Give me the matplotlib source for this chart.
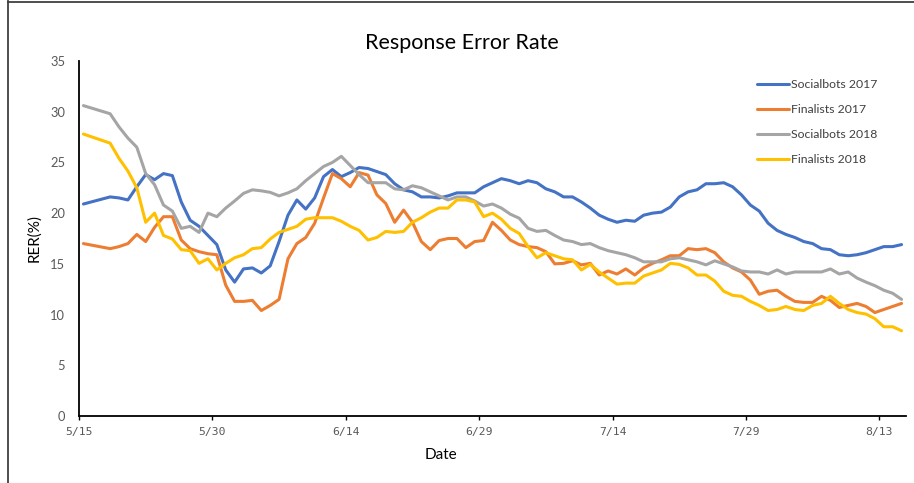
import numpy as np
import matplotlib
matplotlib.use("Agg")
import matplotlib.pyplot as plt
from matplotlib.lines import Line2D

# ---- data (days after 5/15; each daily value sits at midday) ----
day = [0] + list(range(3, 93))

socialbots_2017 = [
    20.9,
    21.6, 21.5, 21.3, 22.6, 23.8, 23.3, 23.9, 23.7, 21.1, 19.3, 18.7, 17.8, 16.9, 14.4, 13.2, 14.5, 14.6, 14.1, 14.8, 17.2, 19.8,
    21.3, 20.4, 21.5, 23.6, 24.3, 23.6, 24.0, 24.5, 24.4, 24.1, 23.8, 22.9, 22.3, 22.1, 21.6, 21.6, 21.5, 21.7, 22.0, 22.0, 22.0, 22.6, 23.0, 23.4,
    23.2, 22.9, 23.2, 23.0, 22.4, 22.1, 21.6, 21.6, 21.1, 20.5, 19.8, 19.4, 19.1, 19.3, 19.2, 19.8, 20.0, 20.1, 20.6, 21.6, 22.1, 22.3, 22.9,
    22.9, 23.0, 22.6, 21.8, 20.8, 20.2, 19.0, 18.3, 17.9, 17.6, 17.2, 17.0, 16.5, 16.4, 15.9, 15.8, 15.9, 16.1, 16.4, 16.7, 16.7, 16.9,
]
finalists_2017 = [
    17.0,
    16.5, 16.7, 17.0, 17.9, 17.2, 18.6, 19.65, 19.65, 17.35, 16.5, 16.2, 16.0, 15.9, 12.9, 11.3, 11.3, 11.4, 10.4, 10.9, 11.5, 15.5,
    17.0, 17.6, 19.0, 21.5, 23.9, 23.4, 22.6, 24.0, 23.75, 21.8, 20.95, 19.1, 20.3, 19.1, 17.2, 16.4, 17.3, 17.5, 17.5, 16.6, 17.2, 17.3, 19.1, 18.3,
    17.35, 16.9, 16.7, 16.6, 16.2, 15.0, 15.05, 15.3, 14.9, 15.05, 13.9, 14.3, 14.0, 14.5, 13.9, 14.6, 15.05, 15.4, 15.8, 15.8, 16.5, 16.4, 16.5,
    16.1, 15.2, 14.6, 14.2, 13.4, 12.0, 12.3, 12.4, 11.8, 11.3, 11.2, 11.2, 11.8, 11.4, 10.7, 10.9, 11.1, 10.8, 10.2, 10.5, 10.8, 11.1,
]
socialbots_2018 = [
    30.6,
    29.8, 28.5, 27.4, 26.5, 23.9, 22.8, 20.8, 20.2, 18.5, 18.7, 18.1, 20.0, 19.65, 20.5, 21.2, 21.95, 22.3, 22.2, 22.05, 21.7, 22.0,
    22.4, 23.2, 23.9, 24.6, 25.0, 25.6, 24.7, 23.8, 23.0, 23.0, 23.0, 22.4, 22.3, 22.7, 22.5, 22.1, 21.7, 21.3, 21.6, 21.6, 21.2, 20.7, 20.9, 20.5,
    19.9, 19.5, 18.5, 18.2, 18.3, 17.8, 17.35, 17.2, 16.9, 17.0, 16.6, 16.3, 16.1, 15.9, 15.6, 15.2, 15.2, 15.2, 15.5, 15.6, 15.4, 15.2, 14.9,
    15.3, 15.0, 14.7, 14.3, 14.2, 14.2, 14.0, 14.4, 14.0, 14.2, 14.2, 14.2, 14.2, 14.5, 14.0, 14.2, 13.6, 13.2, 12.85, 12.4, 12.1, 11.5,
]
finalists_2018 = [
    27.8,
    26.9, 25.4, 24.15, 22.5, 19.1, 20.0, 17.8, 17.45, 16.4, 16.3, 15.05, 15.5, 14.4, 15.05, 15.6, 15.9, 16.5, 16.6, 17.45, 18.1, 18.4,
    18.7, 19.4, 19.55, 19.55, 19.55, 19.2, 18.7, 18.3, 17.35, 17.6, 18.2, 18.1, 18.2, 19.1, 19.55, 20.1, 20.5, 20.5, 21.3, 21.3, 21.1, 19.65, 20.0, 19.4,
    18.5, 18.0, 16.7, 15.6, 16.1, 15.8, 15.5, 15.4, 14.4, 14.95, 14.2, 13.6, 13.0, 13.1, 13.1, 13.8, 14.1, 14.4, 15.05, 14.95, 14.6, 13.9, 13.9,
    13.3, 12.3, 11.9, 11.8, 11.3, 10.9, 10.4, 10.5, 10.8, 10.5, 10.4, 10.9, 11.1, 11.8, 11.1, 10.5, 10.2, 10.05, 9.6, 8.8, 8.8, 8.4,
]

series_names = ["Socialbots 2017", "Finalists 2017", "Socialbots 2018", "Finalists 2018"]
tick_days = [0, 15, 30, 45, 60, 75, 90]
tick_labels = ["5/15", "5/30", "6/14", "6/29", "7/14", "7/29", "8/13"]
y_ticks = [0, 5, 10, 15, 20, 25, 30, 35]

colors = ["#4472C4", "#ED7D31", "#A5A5A5", "#FFC000"]

# ---- figure ----
W, H = 914, 483
fig = plt.figure(figsize=(W / 100, H / 100), dpi=100)
fig.patch.set_facecolor("white")

ax = fig.add_axes([79 / W, 1 - 416 / H, (906 - 79) / W, (416 - 61) / H])

x = np.array(day) + 0.5
for vals, name, c in zip([socialbots_2017, finalists_2017, socialbots_2018, finalists_2018],
                         series_names, colors):
    ax.plot(x, vals, color=c, lw=2.2, label=name, solid_joinstyle="round", solid_capstyle="round")

ax.set_xlim(0, 93)
ax.set_ylim(0, 35)
ax.set_yticks(y_ticks)
ax.set_xticks(tick_days)
ax.set_xticklabels(tick_labels, family="DejaVu Sans Mono", fontsize=8.2, color="#595959")
for lbl in ax.get_yticklabels():
    lbl.set_family("Lato")
    lbl.set_fontsize(9.3)
    lbl.set_color("#595959")
ax.tick_params(axis="y", length=0, pad=10)
ax.tick_params(axis="x", length=3, width=1, color="#000000", pad=5)

for s in ["top", "right"]:
    ax.spines[s].set_visible(False)
for s in ["left", "bottom"]:
    ax.spines[s].set_color("#000000")
    ax.spines[s].set_linewidth(1.3)

# titles and axis labels
fig.text(462 / W, 1 - 43 / H, "Response Error Rate", ha="center", va="center",
         family="Lato", fontsize=15.5, color="#000000")
fig.text(441 / W, 1 - 455 / H, "Date", ha="center", va="center",
         family="Lato", fontsize=11, color="#000000")
fig.text(34 / W, 1 - 238 / H, "RER(%)", ha="center", va="center", rotation=90,
         family="Lato", fontsize=11, color="#000000")

# legend
leg = ax.legend(loc="upper left", bbox_to_anchor=(757 / W, 1 - 79 / H),
                bbox_transform=fig.transFigure, frameon=False,
                prop={"family": "Lato", "size": 8.8}, handlelength=2.6,
                handletextpad=0.2, labelspacing=1.15, borderpad=0, borderaxespad=0)
for t in leg.get_texts():
    t.set_color("#404040")

# outer border lines (left and top)
fig.add_artist(Line2D([8 / W, 8 / W], [0, 1 - 1 / H], transform=fig.transFigure,
                      color="#404040", lw=1.3))
fig.add_artist(Line2D([8 / W, 1], [1 - 1.5 / H, 1 - 1.5 / H], transform=fig.transFigure,
                      color="#404040", lw=1.3))

fig.savefig("out.png", dpi=100)
